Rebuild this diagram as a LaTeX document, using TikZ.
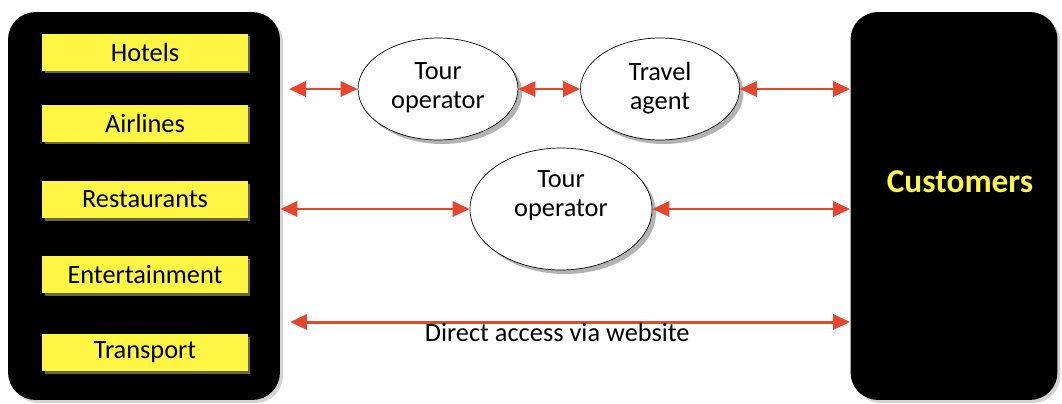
\documentclass[tikz,border=0pt]{standalone}
\usepackage{fontspec}
\setmainfont{Carlito}
\usetikzlibrary{arrows.meta,shapes.geometric,shadows,positioning}
\definecolor{boxyellow}{HTML}{FFF545}
\definecolor{arrowred}{HTML}{E8452F}

\begin{document}
\begin{tikzpicture}[
    x=0.02cm, y=-0.02cm,
    panel/.style={fill=black, rounded corners=0.55cm, inner sep=0pt,
        drop shadow={opacity=0.35, shadow xshift=0.06cm, shadow yshift=-0.06cm}},
    item/.style={fill=boxyellow, minimum width=4.12cm, minimum height=0.74cm,
        inner sep=0pt, font=\fontsize{15}{17}\selectfont,
        drop shadow={fill=boxyellow!40!gray, opacity=0.6, shadow xshift=0.05cm, shadow yshift=-0.05cm}},
    agent/.style={ellipse, draw, thin, fill=white, inner sep=0pt, align=center,
        font=\fontsize{15}{16.5}\selectfont,
        drop shadow={opacity=0.6, shadow xshift=0.08cm, shadow yshift=-0.08cm}},
    link/.style={draw=arrowred, line width=1.7pt,
        {Triangle[length=0.34cm, width=0.3cm]}-{Triangle[length=0.34cm, width=0.3cm]}}
]
\useasboundingbox (0,0) rectangle (1062,403);

% Fornitori
\node[panel, minimum width=5.44cm, minimum height=7.76cm] (suppliers) at (144,206) {};
\node[item] (hotels) at (145,52) {Hotels};
\node[item] (airlines) at (145,123) {Airlines};
\node[item] (restaurants) at (145,199.5) {Restaurants};
\node[item] (entertainment) at (145,274.5) {Entertainment};
\node[item] (transport) at (145,352.5) {Transport};

% Clienti
\node[panel, minimum width=4.14cm, minimum height=7.76cm] (customers) at (954,206) {};
\node[text=boxyellow, font=\fontsize{19}{21}\bfseries] (custlabel) at (960,182) {Customers};

% Intermediari
\node[agent, minimum width=3.2cm, minimum height=2.04cm, text depth=0.12cm] (tourop) at (438,89) {Tour\\operator};
\node[agent, minimum width=3.18cm, minimum height=2.04cm, text depth=0.12cm] (travel) at (660,89) {Travel\\agent};
\node[agent, minimum width=3.64cm, minimum height=2.44cm, text depth=0.6cm] (tourop2) at (561,209) {Tour\\operator};

% Canali
\coordinate (l1) at (289,89);
\draw[link] (l1) -- (tourop.west);
\draw[link] (tourop.east) -- (travel.west);
\draw[link] (travel.east) -- (travel.east -| customers.west);

\draw[link] (suppliers.east |- tourop2.center) -- (tourop2.west);
\draw[link] (tourop2.east) -- (tourop2.east -| customers.west);

\coordinate (d1) at (290,322);
\draw[link] (d1) -- (d1 -| customers.west)
    node[pos=0.477, yshift=-0.2cm, text=black, font=\fontsize{15}{17}\selectfont] (direct) {Direct access via website};
\end{tikzpicture}
\end{document}
